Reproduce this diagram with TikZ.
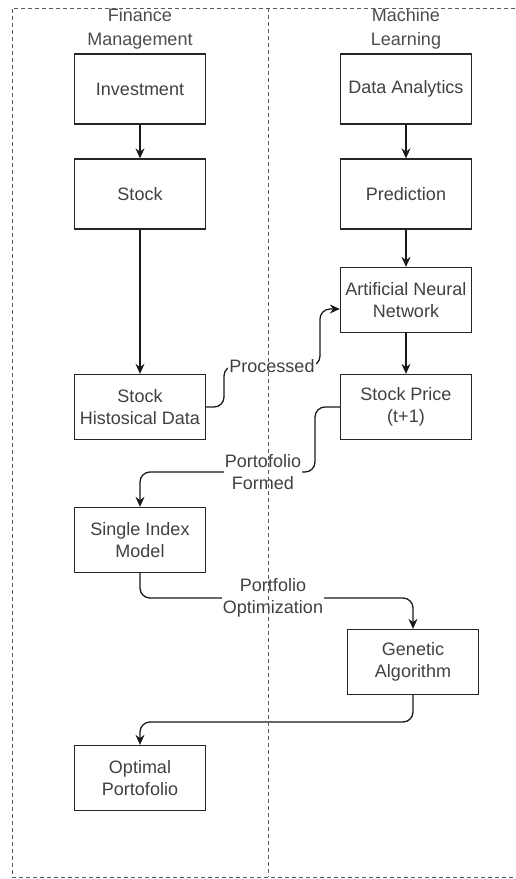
\documentclass[tikz,border=0pt]{standalone}
\usepackage{fontspec}
\setmainfont{Liberation Sans}
\usetikzlibrary{arrows.meta, positioning}

\newcommand{\flowfont}{\fontsize{18}{22}\selectfont}

\begin{document}
\begin{tikzpicture}[x=1pt, y=-1pt,
    box/.style={draw=black!85, line width=1.3pt, minimum width=131pt, minimum height=65pt,
        inner sep=2pt, align=center, text=black!75, font=\flowfont},
    tallbox/.style={box, minimum height=70pt},
    head/.style={align=center, text=black!70, font=\fontsize{18}{24}\selectfont},
    flow/.style={draw=black!90, line width=1.3pt, rounded corners=10pt,
        -{Stealth[length=10pt, width=9pt]}},
    lbl/.style={fill=white, inner sep=1pt, align=center, text=black!75, font=\flowfont},
    lane/.style={draw=black!65, line width=1pt, dash pattern=on 4pt off 3pt}]
    \useasboundingbox (0,0) rectangle (515,879);

    % lane headers
    \node[head] (finhead) at (140,29) {Finance\\Management};
    \node[head] (mlhead) at (406,29) {Machine\\Learning};

    % finance side
    \node[tallbox] (invest) at (140,89) {Investment};
    \node[tallbox] (stock) at (140,194) {Stock};
    \node[box] (hist) at (140,407) {Stock\\Histosical Data};
    \node[box] (sim) at (140,540) {Single Index\\Model};
    \node[box] (optim) at (140,778) {Optimal\\Portofolio};

    % machine learning side
    \node[tallbox] (analytics) at (406,89) {Data Analytics};
    \node[tallbox] (predict) at (406,194) {Prediction};
    \node[box] (ann) at (406,300) {Artificial Neural\\Network};
    \node[box] (price) at (406,407) {Stock Price\\(t+1)};
    \node[box] (genetic) at (413,662) {Genetic\\Algorithm};

    % straight links
    \draw[flow] (invest) -- (stock);
    \draw[flow] (stock) -- (hist);
    \draw[flow] (analytics) -- (predict);
    \draw[flow] (predict) -- (ann);
    \draw[flow] (ann) -- (price);

    % crossing links
    \draw[flow] (hist.east) -| (224,366) -| (320,309) -- ([yshift=-9pt]ann.west);
    \draw[flow] (price.west) -| (315,472) -| (sim.north);
    \draw[flow] (sim.south) |- (413,598) -- (genetic.north);
    \draw[flow] (genetic.south) |- (140,722) -- (optim.north);

    \node[lbl] (proclbl) at (272,366) {Processed};
    \node[lbl] (formlbl) at (263,472) {Portofolio\\Formed};
    \node[lbl] (optlbl) at (273,598) {Portfolio\\Optimization};

    % lanes
    \draw[lane] (515,8) -- (12,8) -- (12,877) -- (515,877);
    \draw[lane] (268,8) -- (268,877);
\end{tikzpicture}
\end{document}
